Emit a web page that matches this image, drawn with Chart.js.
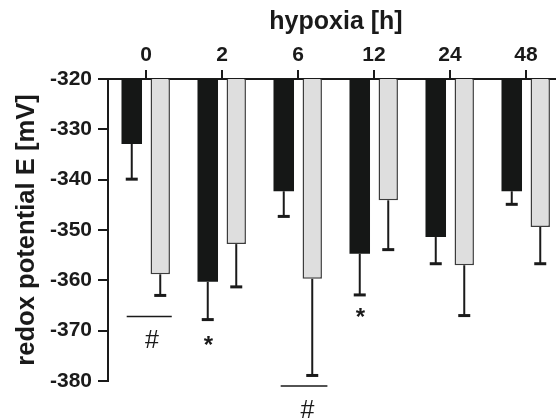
<!DOCTYPE html>
<html>
<head>
<meta charset="utf-8">
<script src="https://cdn.jsdelivr.net/npm/chart.js@4/dist/chart.umd.min.js"></script>
<style>
html, body { margin: 0; padding: 0; overflow: hidden; background: #ffffff; }
canvas { display: block; }
</style>
</head>
<body>
<canvas id="c" width="566" height="419" style="width:566px;height:419px"></canvas>
<script>
// ---- data ----
const categories = ['0', '2', '6', '12', '24', '48'];
const yTickValues = [-320, -330, -340, -350, -360, -370, -380];
const meanBlack = [-332.9, -360.3, -342.3, -354.7, -351.4, -342.3];
const sdBlack   = [7.0, 7.5, 5.0, 8.2, 5.3, 2.6];
const meanGray  = [-358.8, -352.8, -359.7, -344.1, -357.0, -349.4];
const sdGray    = [4.2, 8.5, 19.2, 9.8, 10.0, 7.3];
// significance marks: category index, offset (in category widths), value
const sigLines = [
  { cat: 0, from: -0.254, to: 0.339, value: -367.2 },
  { cat: 2, from: -0.228, to: 0.387, value: -381.0 }
];
const sigTexts = [
  { cat: 0, dx: 0.079, value: -371.6, text: '#', bold: false },
  { cat: 2, dx: 0.124, value: -385.6, text: '#', bold: false },
  { cat: 1, dx: -0.18, value: -371.9, text: '*', bold: true },
  { cat: 3, dx: -0.18, value: -366.3, text: '*', bold: true }
];

const INK = '#1a1a1a';
const FONT = "'Liberation Sans', Arial, Helvetica, sans-serif";

const errorPlugin = {
  id: 'errorBars',
  afterDatasetsDraw(chart) {
    const ctx = chart.ctx;
    const y = chart.scales.y;
    const x = chart.scales.x;
    const sds = [sdBlack, sdGray];
    const means = [meanBlack, meanGray];
    ctx.save();
    ctx.strokeStyle = INK;
    for (let d = 0; d < 2; d++) {
      const meta = chart.getDatasetMeta(d);
      meta.data.forEach((bar, i) => {
        const y0 = y.getPixelForValue(means[d][i]);
        const y1 = y.getPixelForValue(means[d][i] - sds[d][i]);
        ctx.lineWidth = 2;
        ctx.beginPath();
        ctx.moveTo(bar.x, y0);
        ctx.lineTo(bar.x, y1);
        ctx.stroke();
        ctx.lineWidth = 3;
        ctx.beginPath();
        ctx.moveTo(bar.x - 6, y1);
        ctx.lineTo(bar.x + 6, y1);
        ctx.stroke();
      });
    }
    const cw = x.getPixelForValue(1) - x.getPixelForValue(0);
    ctx.lineWidth = 1.5;
    sigLines.forEach(l => {
      const cx = x.getPixelForValue(l.cat);
      const py = y.getPixelForValue(l.value);
      ctx.beginPath();
      ctx.moveTo(cx + l.from * cw, py);
      ctx.lineTo(cx + l.to * cw, py);
      ctx.stroke();
    });
    ctx.fillStyle = INK;
    ctx.textAlign = 'center';
    ctx.textBaseline = 'alphabetic';
    sigTexts.forEach(t => {
      ctx.font = (t.bold ? 'bold 24px ' : '25px ') + FONT;
      const m = ctx.measureText(t.text);
      const cx = x.getPixelForValue(t.cat) + t.dx * cw;
      const cy = y.getPixelForValue(t.value);
      const by = cy + (m.actualBoundingBoxAscent - m.actualBoundingBoxDescent) / 2;
      ctx.fillText(t.text, cx, by);
    });
    ctx.restore();
  }
};

new Chart(document.getElementById('c'), {
  type: 'bar',
  data: {
    labels: categories,
    datasets: [
      {
        label: 'black',
        data: meanBlack,
        backgroundColor: '#151716',
        borderWidth: 0,
        categoryPercentage: 0.75,
        barPercentage: 0.72
      },
      {
        label: 'gray',
        data: meanGray,
        backgroundColor: '#dedede',
        borderColor: '#3c3c3c',
        borderWidth: 1.5,
        borderSkipped: false,
        categoryPercentage: 0.75,
        barPercentage: 0.68
      }
    ]
  },
  options: {
    responsive: false,
    animation: false,
    layout: { padding: { left: 0, right: 2, top: 0, bottom: 38 } },
    plugins: { legend: { display: false }, tooltip: { enabled: false } },
    scales: {
      x: {
        position: 'top',
        offset: true,
        grid: { display: true, drawOnChartArea: false, offset: false, tickLength: 9, lineWidth: 2, color: INK },
        border: { display: true, width: 2, color: INK },
        ticks: { color: INK, padding: 2, maxRotation: 0, font: { family: FONT, size: 21, weight: 'bold' } },
        title: { display: true, text: 'hypoxia [h]', color: INK, padding: { top: 7, bottom: 0 },
                 font: { family: FONT, size: 25, weight: 'bold' } },
        afterFit(s) { s.height = 79; }
      },
      y: {
        min: -380,
        max: -320,
        afterBuildTicks(s) { s.ticks = yTickValues.map(v => ({ value: v })); },
        grid: { display: true, drawOnChartArea: false, tickLength: 10, lineWidth: 2, color: INK },
        border: { display: true, width: 2, color: INK },
        ticks: { color: INK, padding: 6, font: { family: FONT, size: 21, weight: 'bold' } },
        title: { display: true, text: 'redox potential E [mV]', color: INK, padding: { top: 12, bottom: 0 },
                 font: { family: FONT, size: 25.6, weight: 'bold' } },
        afterFit(s) { s.width = 108; }
      }
    }
  },
  plugins: [errorPlugin]
});
</script>
</body>
</html>
